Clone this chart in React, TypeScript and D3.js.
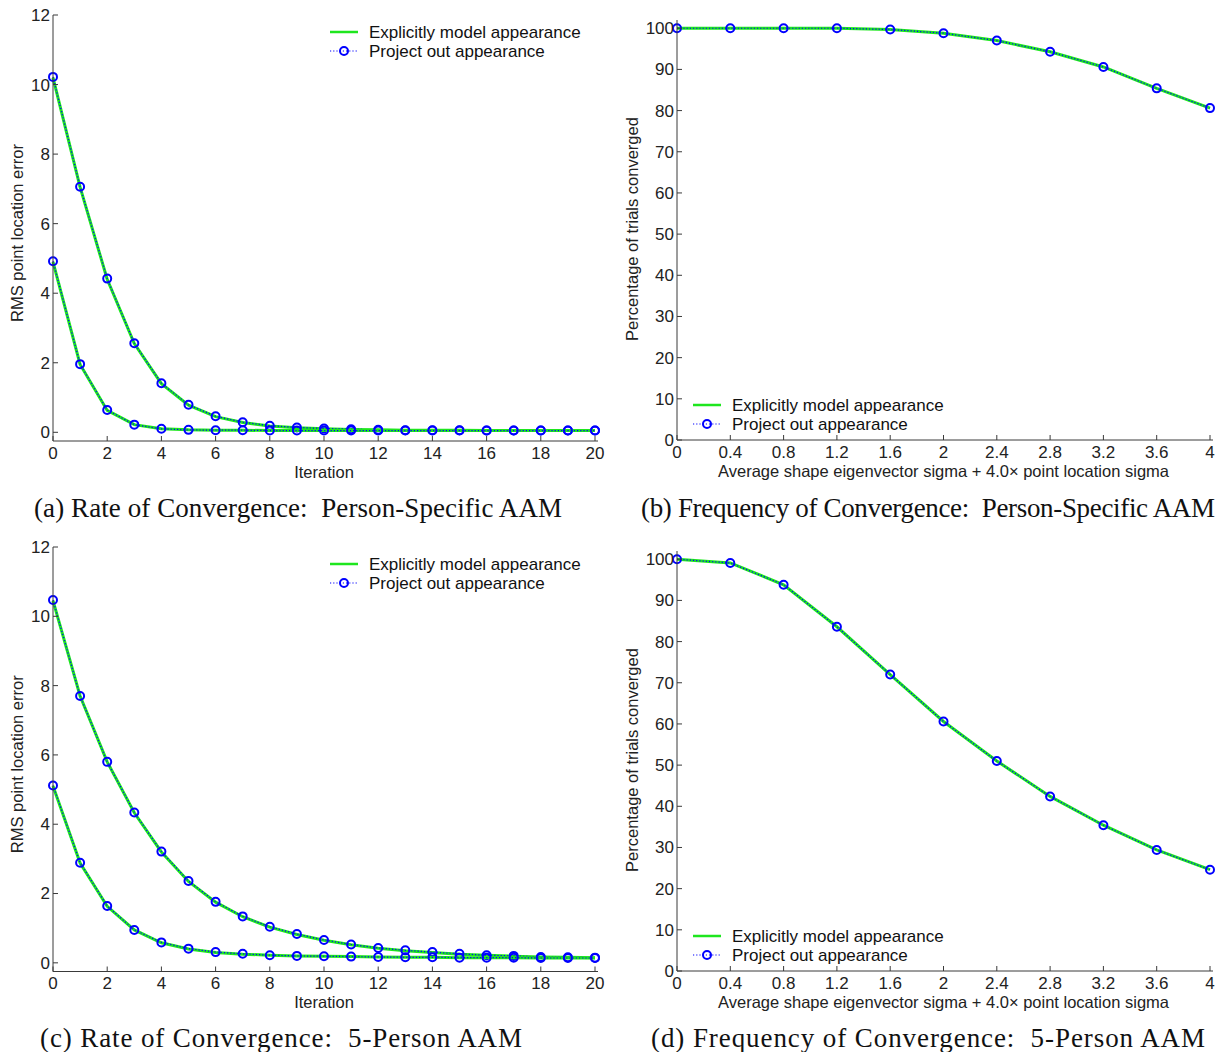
import React from "react";
import * as d3 from "d3";

// iterations 0..20
const iterations = d3.range(0, 21);

// (a) person-specific AAM, RMS error per iteration (two starting perturbations)
const rateA_high_explicit = [10.2, 7.05, 4.4, 2.55, 1.4, 0.78, 0.45, 0.28, 0.18, 0.13, 0.1, 0.08, 0.07, 0.06, 0.06, 0.06, 0.05, 0.05, 0.05, 0.05, 0.05];
const rateA_high_project = [10.22, 7.06, 4.42, 2.56, 1.41, 0.79, 0.46, 0.29, 0.19, 0.14, 0.11, 0.09, 0.07, 0.06, 0.06, 0.06, 0.05, 0.05, 0.05, 0.05, 0.05];
const rateA_low_explicit = [4.9, 1.95, 0.63, 0.22, 0.1, 0.07, 0.06, 0.06, 0.05, 0.05, 0.05, 0.05, 0.05, 0.05, 0.05, 0.05, 0.05, 0.05, 0.05, 0.05, 0.05];
const rateA_low_project = [4.92, 1.96, 0.64, 0.22, 0.1, 0.07, 0.06, 0.06, 0.05, 0.05, 0.05, 0.05, 0.05, 0.05, 0.05, 0.05, 0.05, 0.05, 0.05, 0.05, 0.05];

// (c) 5-person AAM
const rateC_high_explicit = [10.45, 7.7, 5.8, 4.33, 3.2, 2.35, 1.75, 1.33, 1.03, 0.82, 0.65, 0.52, 0.42, 0.35, 0.3, 0.25, 0.22, 0.19, 0.17, 0.16, 0.15];
const rateC_high_project = [10.47, 7.7, 5.8, 4.34, 3.21, 2.36, 1.76, 1.34, 1.04, 0.83, 0.66, 0.53, 0.43, 0.36, 0.31, 0.26, 0.22, 0.2, 0.17, 0.16, 0.15];
const rateC_low_explicit = [5.1, 2.88, 1.63, 0.95, 0.58, 0.4, 0.3, 0.25, 0.22, 0.2, 0.19, 0.18, 0.17, 0.16, 0.16, 0.15, 0.15, 0.15, 0.14, 0.14, 0.14];
const rateC_low_project = [5.12, 2.89, 1.64, 0.95, 0.59, 0.41, 0.31, 0.26, 0.22, 0.2, 0.19, 0.18, 0.17, 0.16, 0.16, 0.15, 0.15, 0.15, 0.14, 0.14, 0.14];

// sigma values 0..4
const sigmas = [0, 0.4, 0.8, 1.2, 1.6, 2, 2.4, 2.8, 3.2, 3.6, 4];

// (b) person-specific, % converged
const freqB_explicit = [100, 100, 100, 100, 99.7, 98.8, 97, 94.3, 90.6, 85.4, 80.6];
const freqB_project = [100, 100, 100, 100, 99.7, 98.8, 97, 94.3, 90.6, 85.4, 80.6];

// (d) 5-person, % converged
const freqD_explicit = [100, 99.1, 93.8, 83.6, 72, 60.6, 51, 42.4, 35.4, 29.4, 24.6];
const freqD_project = [100, 99.1, 93.8, 83.6, 72, 60.6, 51, 42.4, 35.4, 29.4, 24.6];

const rateXTicks = [0, 2, 4, 6, 8, 10, 12, 14, 16, 18, 20];
const rateYTicks = [0, 2, 4, 6, 8, 10, 12];
const freqXTicks = sigmas;
const freqYTicks = [0, 10, 20, 30, 40, 50, 60, 70, 80, 90, 100];

const legendLabels = ["Explicitly model appearance", "Project out appearance"];

const GREEN = "#1ee61e";
const BLUE = "#0000ff";
const AXIS = "#3a3a3a";
const SANS = "Arial, 'Liberation Sans', sans-serif";
const SERIF = "'Times New Roman', 'Liberation Serif', serif";

type Pair = { xs: number[]; explicit: number[]; project: number[] };

function Panel(props: {
  x0: number; x1: number; yTop: number; yBottom: number;
  xDomain: [number, number]; yDomain: [number, number];
  xTicks: number[]; yTicks: number[];
  series: Pair[];
  xLabel: string; yLabel: string; yLabelX: number; yLabelShift: number;
  caption: string; captionX: number; captionY: number; captionW: number;
  legendX: number; legendY: number;
}) {
  const p = props;
  const sx = d3.scaleLinear().domain(p.xDomain).range([p.x0, p.x1]);
  const sy = d3.scaleLinear().domain(p.yDomain).range([p.yBottom, p.yTop]);
  const fmt = d3.format("~g");

  return (
    <g>
      {p.series.map((s, i) => {
        const line = d3.line<number>().x((_, j) => sx(s.xs[j])).y(d => sy(d));
        return (
          <g key={i}>
            <path d={line(s.explicit) || ""} fill="none" stroke={GREEN} strokeWidth={3} />
            <path d={line(s.project) || ""} fill="none" stroke={BLUE} strokeWidth={1.2} strokeDasharray="1.2,2" />
            {s.project.map((v, j) => (
              <circle key={j} cx={sx(s.xs[j])} cy={sy(v)} r={4} fill="none" stroke={BLUE} strokeWidth={2} />
            ))}
          </g>
        );
      })}

      {/* axes */}
      <line x1={p.x0} x2={p.x0} y1={p.yTop} y2={p.yBottom} stroke={AXIS} />
      <line x1={p.x0} x2={p.x1 + 3} y1={p.yBottom} y2={p.yBottom} stroke={AXIS} />
      {p.yTicks.map(t => (
        <g key={"y" + t}>
          <line x1={p.x0} x2={p.x0 + 5} y1={sy(t)} y2={sy(t)} stroke={AXIS} />
          <text x={p.x0 - 3} y={sy(t)} dy="0.35em" textAnchor="end" fontSize={17} fontFamily={SANS} fill="#222">{fmt(t)}</text>
        </g>
      ))}
      {p.xTicks.map(t => (
        <g key={"x" + t}>
          <line x1={sx(t)} x2={sx(t)} y1={p.yBottom} y2={p.yBottom - 5} stroke={AXIS} />
          <text x={sx(t)} y={p.yBottom + 12} dy="0.35em" textAnchor="middle" fontSize={17} fontFamily={SANS} fill="#222">{fmt(t)}</text>
        </g>
      ))}
      <text x={(p.x0 + p.x1) / 2} y={p.yBottom + 31} dy="0.35em" textAnchor="middle" fontSize={16.5} fontFamily={SANS} fill="#222">{p.xLabel}</text>
      <text transform={`translate(${p.yLabelX},${(p.yTop + p.yBottom) / 2 + p.yLabelShift}) rotate(-90)`} dy="0.35em" textAnchor="middle" fontSize={16.5} fontFamily={SANS} fill="#222">{p.yLabel}</text>

      {/* legend */}
      <g>
        <line x1={p.legendX} x2={p.legendX + 28} y1={p.legendY} y2={p.legendY} stroke={GREEN} strokeWidth={2.5} />
        <text x={p.legendX + 39} y={p.legendY} dy="0.35em" fontSize={17} fontFamily={SANS} fill="#111">{legendLabels[0]}</text>
        <line x1={p.legendX} x2={p.legendX + 28} y1={p.legendY + 19} y2={p.legendY + 19} stroke={BLUE} strokeWidth={1.2} strokeDasharray="1.2,2" />
        <circle cx={p.legendX + 14} cy={p.legendY + 19} r={4} fill="none" stroke={BLUE} strokeWidth={2} />
        <text x={p.legendX + 39} y={p.legendY + 19} dy="0.35em" fontSize={17} fontFamily={SANS} fill="#111">{legendLabels[1]}</text>
      </g>

      <text x={p.captionX} y={p.captionY} dy="0.35em" textAnchor="middle" fontSize={27} fontFamily={SERIF} fill="#111"
        textLength={p.captionW} lengthAdjust="spacing" style={{ whiteSpace: "pre" }}>{p.caption}</text>
    </g>
  );
}

export default function App() {
  const rateYLabel = "RMS point location error";
  const freqYLabel = "Percentage of trials converged";
  const freqXLabel = "Average shape eigenvector sigma + 4.0\u00d7 point location sigma";
  return (
    <svg width={1222} height={1052} style={{ position: "absolute", left: 0, top: 0, background: "#fff" }}>
      <Panel
        x0={53} x1={595} yTop={15} yBottom={441}
        xDomain={[0, 20]} yDomain={[-0.25, 12]}
        xTicks={rateXTicks} yTicks={rateYTicks}
        series={[
          { xs: iterations, explicit: rateA_high_explicit, project: rateA_high_project },
          { xs: iterations, explicit: rateA_low_explicit, project: rateA_low_project },
        ]}
        xLabel="Iteration" yLabel={rateYLabel} yLabelX={17} yLabelShift={5}
        caption="(a) Rate of Convergence:  Person-Specific AAM" captionX={298} captionY={508} captionW={528}
        legendX={330} legendY={32}
      />
      <Panel
        x0={677} x1={1210} yTop={20} yBottom={440}
        xDomain={[0, 4]} yDomain={[0, 102]}
        xTicks={freqXTicks} yTicks={freqYTicks}
        series={[{ xs: sigmas, explicit: freqB_explicit, project: freqB_project }]}
        xLabel={freqXLabel} yLabel={freqYLabel} yLabelX={632} yLabelShift={-1}
        caption="(b) Frequency of Convergence:  Person-Specific AAM" captionX={928} captionY={508} captionW={574}
        legendX={693} legendY={405}
      />
      <Panel
        x0={53} x1={595} yTop={547} yBottom={971.5}
        xDomain={[0, 20]} yDomain={[-0.25, 12]}
        xTicks={rateXTicks} yTicks={rateYTicks}
        series={[
          { xs: iterations, explicit: rateC_high_explicit, project: rateC_high_project },
          { xs: iterations, explicit: rateC_low_explicit, project: rateC_low_project },
        ]}
        xLabel="Iteration" yLabel={rateYLabel} yLabelX={17} yLabelShift={5}
        caption="(c) Rate of Convergence:  5-Person AAM" captionX={281} captionY={1038} captionW={482}
        legendX={330} legendY={564}
      />
      <Panel
        x0={677} x1={1210} yTop={551} yBottom={971}
        xDomain={[0, 4]} yDomain={[0, 102]}
        xTicks={freqXTicks} yTicks={freqYTicks}
        series={[{ xs: sigmas, explicit: freqD_explicit, project: freqD_project }]}
        xLabel={freqXLabel} yLabel={freqYLabel} yLabelX={632} yLabelShift={-1}
        caption="(d) Frequency of Convergence:  5-Person AAM" captionX={928} captionY={1038} captionW={554}
        legendX={693} legendY={936}
      />
    </svg>
  );
}
